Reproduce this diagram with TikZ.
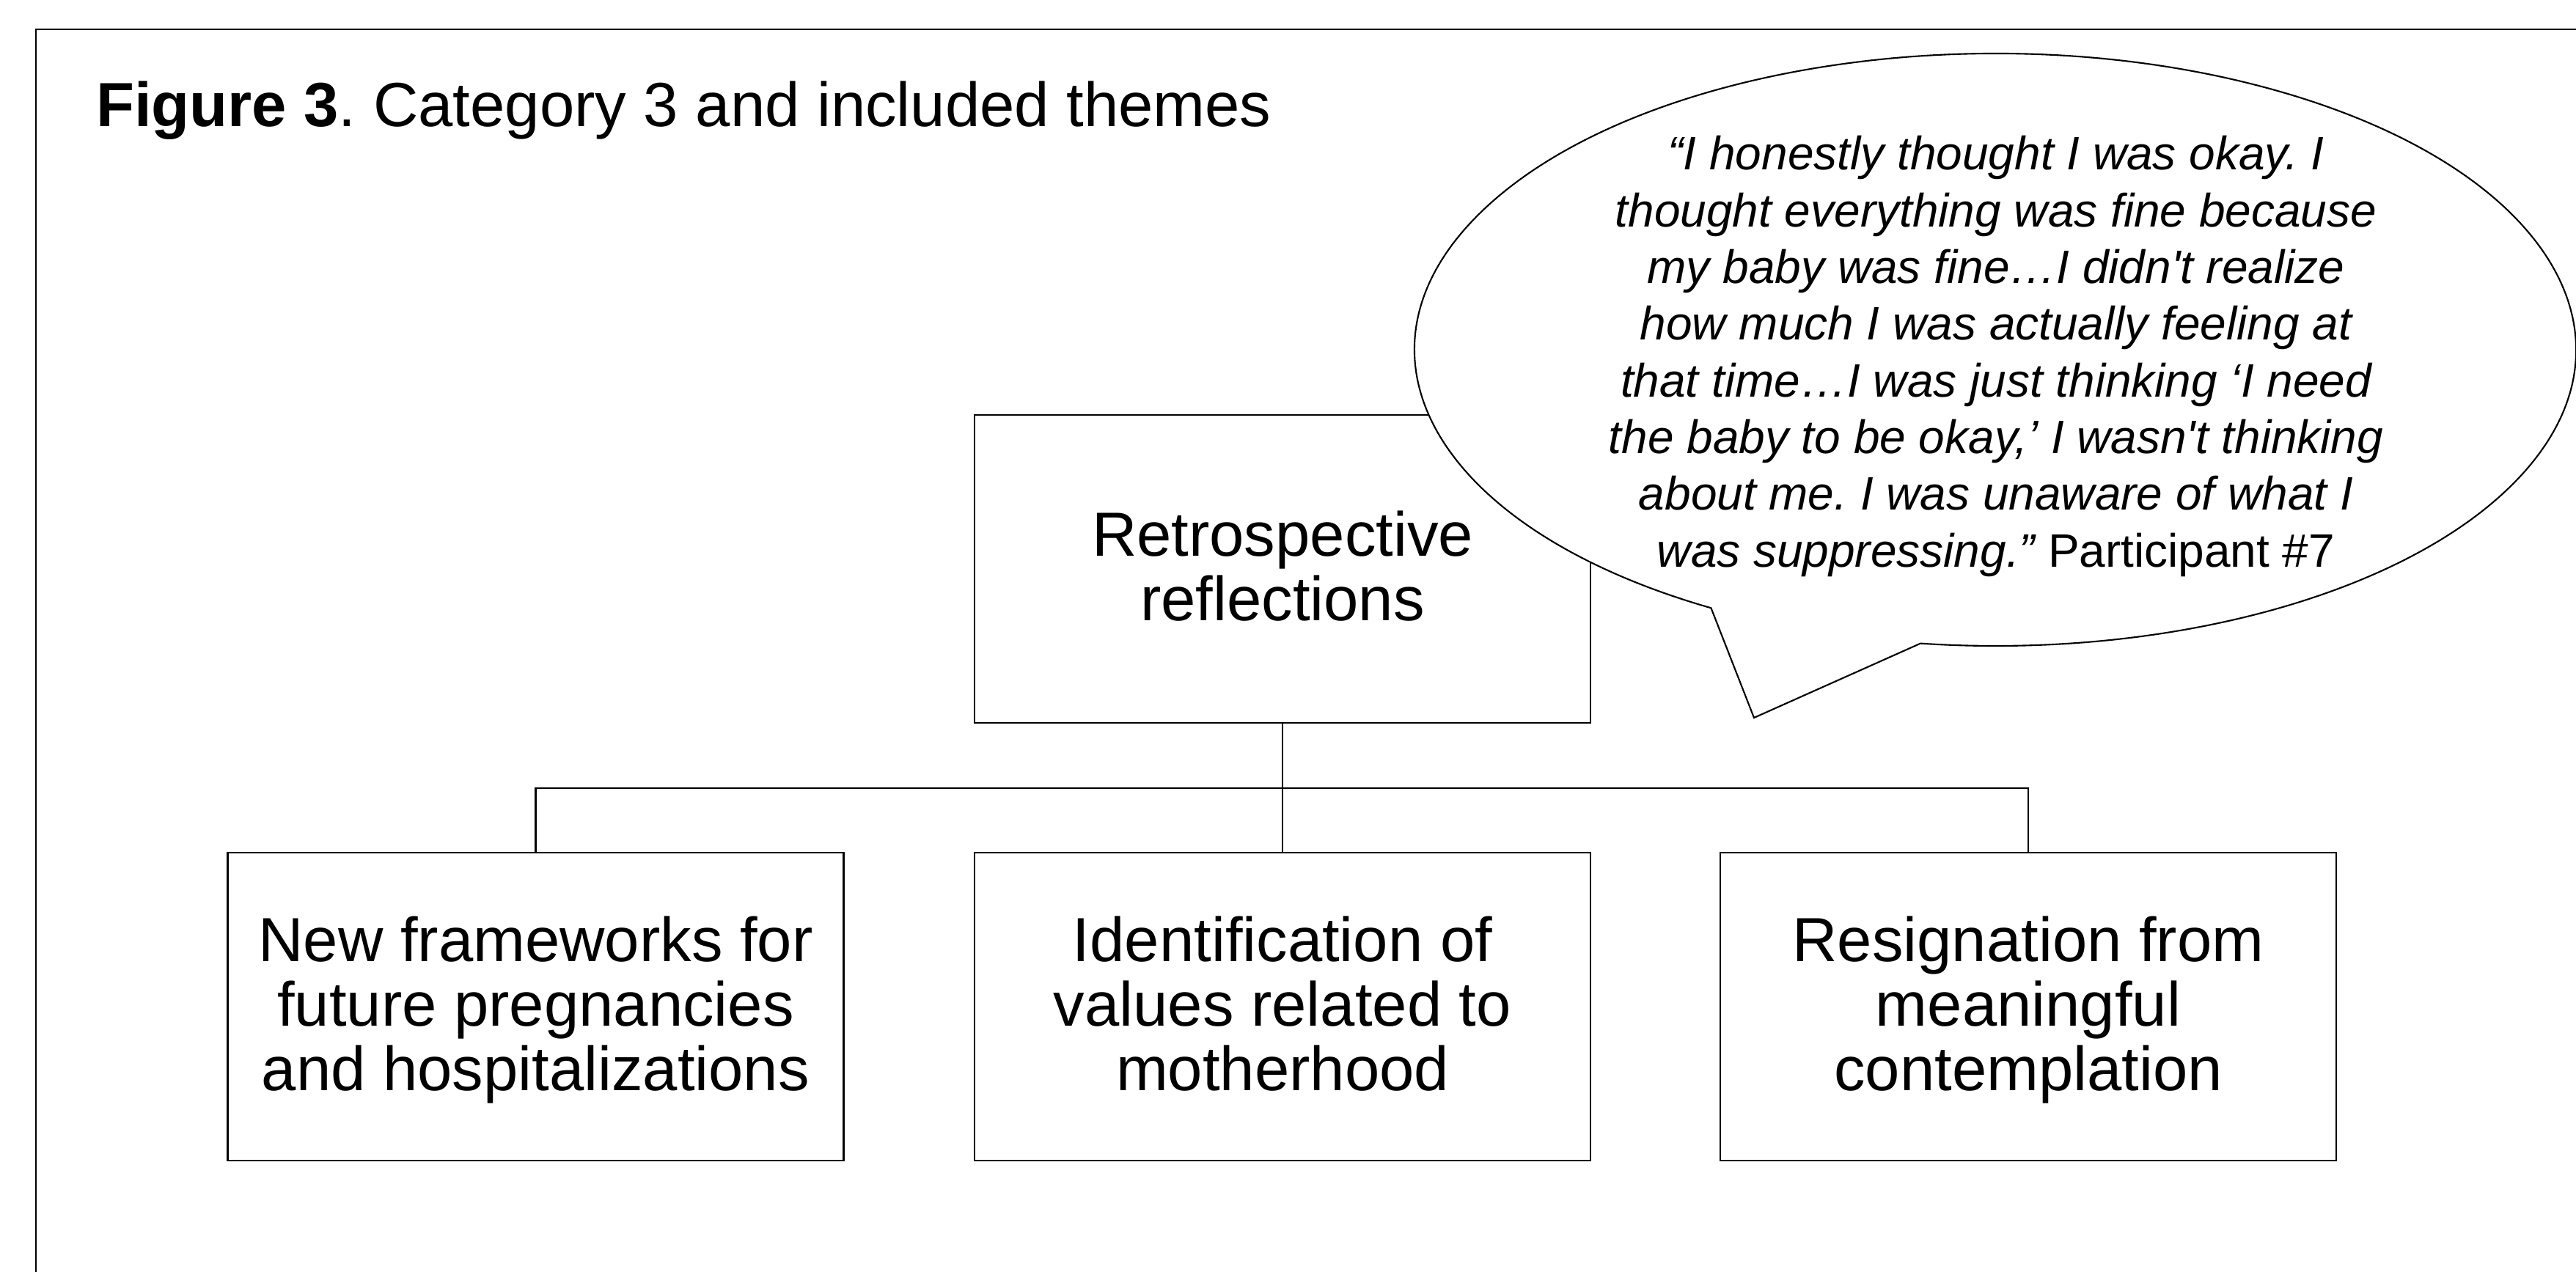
\documentclass[tikz,border=0pt]{standalone}
\usepackage{fontspec}
\newfontfamily\arial{Liberation Sans}
\newcommand{\topstrut}{\rule{0pt}{22.5pt}}

\begin{document}
\frenchspacing
\begin{tikzpicture}[line width=0.6pt,
	theme/.style={draw, minimum width=8.4cm, minimum height=4.2cm, align=center, inner sep=0pt, font=\arial\fontsize{24.2}{25}\selectfont},
	bubble/.style={draw, fill=white},
	quote/.style={align=center, inner sep=0pt, font=\arial\fontsize{18.2}{22}\selectfont\itshape}]
	\useasboundingbox (0,0) rectangle (35.13,-17.35);
	\draw[line width=0.85pt] (35.13,-0.4) -- (0.49,-0.4) -- (0.49,-17.35);
	\node[anchor=base west, inner sep=0pt, font=\arial\fontsize{24.2}{25}\selectfont] (title) at (1.30,-1.72) {\textbf{Figure 3}. Category 3 and included themes};
	\node[theme] (retro) at (17.49,-7.76) {\topstrut Retrospective\\reflections\strut};
	\node[theme] (frames) at (7.305,-13.73) {\topstrut New frameworks for\\future pregnancies\\and hospitalizations\strut};
	\node[theme] (values) at (17.49,-13.73) {\topstrut Identification of\\values related to\\motherhood\strut};
	\node[theme] (resign) at (27.66,-13.73) {\topstrut Resignation from\\meaningful\\contemplation\strut};
	\coordinate (split) at (retro.south |- 0,-10.75);
	\draw (retro.south) -- (split);
	\draw (split) -- (values.north);
	\draw (frames.north) |- (split) -| (resign.north);
	% speech bubble
	\coordinate (bubblec) at (27.21,-4.77);
	\coordinate (tip) at (23.92,-9.79);
	\draw[bubble] (bubblec) ++(240.7:7.92 and 4.04) arc[start angle=240.7, end angle=-97.4, x radius=7.92, y radius=4.04] -- (tip) -- cycle;
	\node[quote] (quote) at (27.22,-4.86) {“I honestly thought I was okay. I\\
		thought everything was fine because\\
		my baby was fine…I didn't realize\\
		how much I was actually feeling at\\
		that time…I was just thinking ‘I need\\
		the baby to be okay,’ I wasn't thinking\\
		about me. I was unaware of what I\\
		was suppressing.” {\upshape Participant \#7}};
\end{tikzpicture}
\end{document}
